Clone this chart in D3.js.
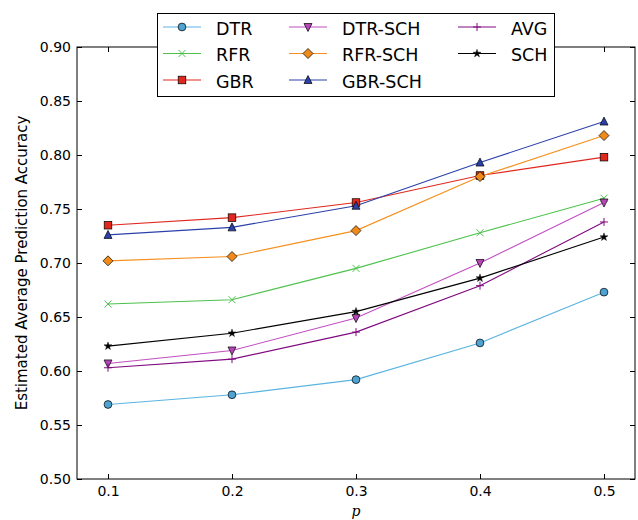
<!DOCTYPE html>
<html><head><meta charset="utf-8">
<script src="https://cdn.jsdelivr.net/npm/d3@7"></script>
<style>body{margin:0;background:#fff}svg{display:block}text{font-family:"DejaVu Sans",sans-serif}</style>
</head><body><svg id="c" width="638" height="520"></svg>
<script>
const pValues = [0.1, 0.2, 0.3, 0.4, 0.5];
const yTicks = [0.50, 0.55, 0.60, 0.65, 0.70, 0.75, 0.80, 0.85, 0.90];
const xTicks = [0.1, 0.2, 0.3, 0.4, 0.5];
const DTR    = [0.569, 0.578, 0.592, 0.626, 0.673];
const RFR    = [0.662, 0.666, 0.695, 0.728, 0.760];
const GBR    = [0.735, 0.742, 0.756, 0.781, 0.798];
const DTR_SCH= [0.607, 0.619, 0.649, 0.700, 0.756];
const RFR_SCH= [0.702, 0.706, 0.730, 0.780, 0.818];
const GBR_SCH= [0.726, 0.733, 0.753, 0.793, 0.831];
const AVG    = [0.603, 0.611, 0.636, 0.679, 0.738];
const SCH    = [0.623, 0.635, 0.655, 0.686, 0.724];

const series = [
  {name:"DTR", v:DTR, color:"#5ab4e0", fill:"#4fa3d1", m:"circle"},
  {name:"RFR", v:RFR, color:"#4cc24c", fill:"#4cc24c", m:"x"},
  {name:"GBR", v:GBR, color:"#e0281e", fill:"#e0281e", m:"square"},
  {name:"DTR-SCH", v:DTR_SCH, color:"#c24fc2", fill:"#b845b8", m:"tridown"},
  {name:"RFR-SCH", v:RFR_SCH, color:"#f5901e", fill:"#f08a1a", m:"diamond"},
  {name:"GBR-SCH", v:GBR_SCH, color:"#2b40a8", fill:"#2b40a8", m:"triup"},
  {name:"AVG", v:AVG, color:"#800a80", fill:"#800a80", m:"plus"},
  {name:"SCH", v:SCH, color:"#000000", fill:"#000000", m:"star"}
];

const svg = d3.select("#c");
const L=77, R=635, T=47, B=479;
const x = d3.scaleLinear().domain([0.075,0.525]).range([L,R]);
const y = d3.scaleLinear().domain([0.5,0.9]).range([B,T]);

function marker(g, type, s){
  const stroke = "#000", sw=0.7;
  if(type==="circle") g.append("circle").attr("r",3.9).attr("fill",s.fill).attr("stroke",stroke).attr("stroke-width",sw);
  else if(type==="square") g.append("rect").attr("x",-3.8).attr("y",-3.8).attr("width",7.6).attr("height",7.6).attr("fill",s.fill).attr("stroke",stroke).attr("stroke-width",sw);
  else if(type==="diamond") g.append("path").attr("d","M0,-5L5,0L0,5L-5,0Z").attr("fill",s.fill).attr("stroke",stroke).attr("stroke-width",sw);
  else if(type==="triup") g.append("path").attr("d","M0,-4.5L4,3.5L-4,3.5Z").attr("fill",s.fill).attr("stroke",stroke).attr("stroke-width",sw);
  else if(type==="tridown") g.append("path").attr("d","M0,4.5L4,-3.5L-4,-3.5Z").attr("fill",s.fill).attr("stroke",stroke).attr("stroke-width",sw);
  else if(type==="x") g.append("path").attr("d","M-3.5,-3.5L3.5,3.5M-3.5,3.5L3.5,-3.5").attr("stroke",s.color).attr("stroke-width",1).attr("fill","none");
  else if(type==="plus") g.append("path").attr("d","M-4,0L4,0M0,-4L0,4").attr("stroke",s.color).attr("stroke-width",1).attr("fill","none");
  else if(type==="star") g.append("path").attr("d", d3.symbol().type(d3.symbolStar).size(20)()).attr("fill",s.fill).attr("stroke",stroke).attr("stroke-width",0.4);
}

// lines
const line = d3.line().x((d,i)=>x(pValues[i])).y(d=>y(d));
series.forEach(s=>{
  svg.append("path").datum(s.v).attr("d",line).attr("fill","none").attr("stroke",s.color).attr("stroke-width",1.1);
});
series.forEach(s=>{
  s.v.forEach((d,i)=>{
    const g = svg.append("g").attr("transform",`translate(${x(pValues[i])},${y(d)})`);
    marker(g, s.m, s);
  });
});

// frame
svg.append("rect").attr("x",L).attr("y",T).attr("width",R-L).attr("height",B-T).attr("fill","none").attr("stroke","#000").attr("stroke-width",1);

// axes (inside ticks)
const axL = d3.axisLeft(y).tickValues(yTicks).tickFormat(d3.format(".2f")).tickSizeInner(-5).tickSizeOuter(0).tickPadding(6);
const gL = svg.append("g").attr("transform",`translate(${L},0)`).call(axL);
const axR = d3.axisRight(y).tickValues(yTicks).tickFormat("").tickSizeInner(-5).tickSizeOuter(0);
const gR = svg.append("g").attr("transform",`translate(${R},0)`).call(axR);
const axB = d3.axisBottom(x).tickValues(xTicks).tickFormat(d3.format(".1f")).tickSizeInner(-5).tickSizeOuter(0).tickPadding(7);
const gB = svg.append("g").attr("transform",`translate(0,${B})`).call(axB);
const axT = d3.axisTop(x).tickValues(xTicks).tickFormat("").tickSizeInner(-5).tickSizeOuter(0);
const gT = svg.append("g").attr("transform",`translate(0,${T})`).call(axT);
[gL,gR,gB,gT].forEach(g=>{
  g.select(".domain").remove();
  g.selectAll("text").attr("font-size",14).attr("fill","#000").style("font-family","DejaVu Sans");
  g.selectAll("line").attr("stroke","#000");
});

// labels
svg.append("text").attr("transform",`translate(27,${(T+B)/2}) rotate(-90)`).attr("text-anchor","middle")
  .attr("font-size",15).text("Estimated Average Prediction Accuracy");
svg.append("text").attr("x",(L+R)/2).attr("y",516).attr("text-anchor","middle").attr("font-size",14)
  .style("font-family","DejaVu Serif").attr("font-style","italic").text("p");

// legend
svg.append("rect").attr("x",157.5).attr("y",13.5).attr("width",397).attr("height",83).attr("fill","#fff").attr("stroke","#000").attr("stroke-width",1);
const colX = [163, 289, 458];
const rowY = [27, 53.5, 80];
series.forEach((s,i)=>{
  const c = Math.floor(i/3), r = i%3;
  const lx = colX[c], ly = rowY[r];
  svg.append("line").attr("x1",lx).attr("x2",lx+38).attr("y1",ly).attr("y2",ly).attr("stroke",s.color).attr("stroke-width",1.1);
  const g = svg.append("g").attr("transform",`translate(${lx+19},${ly})`);
  marker(g, s.m, s);
  svg.append("text").attr("x",lx+53).attr("y",ly+7.5).attr("font-size",17.5).text(s.name);
});
</script></body></html>
